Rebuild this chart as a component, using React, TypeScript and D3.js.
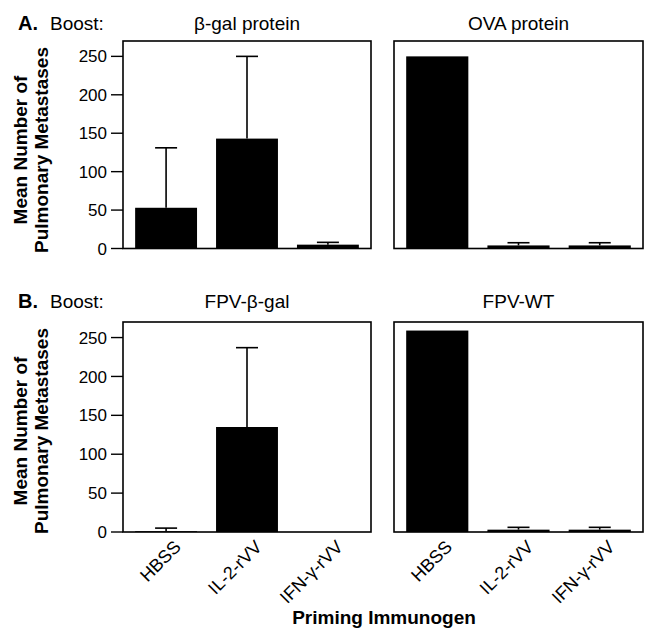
import React from "react";
import * as d3 from "d3";

const categories = ["HBSS", "IL-2-rVV", "IFN-γ-rVV"];
const yTicks = [0, 50, 100, 150, 200, 250];

const betaGalProteinMeans = [53, 143, 5];
const betaGalProteinErr = [78, 107, 3];
const ovaProteinMeans = [250, 4, 4];
const ovaProteinErr = [0, 3.5, 3.5];
const fpvBetaGalMeans = [1, 135, 0];
const fpvBetaGalErr = [4, 102, 0];
const fpvWtMeans = [259, 3, 3];
const fpvWtErr = [0, 3, 3];

const rowLabels = ["A.", "B."];
const panelTitles = [
  ["β-gal protein", "OVA protein"],
  ["FPV-β-gal", "FPV-WT"],
];

const FONT = "'Liberation Sans', Arial, Helvetica, sans-serif";

type PanelProps = {
  x0: number;
  x1: number;
  y0: number;
  y1: number;
  means: number[];
  errs: number[];
  showY: boolean;
  showX: boolean;
};

function Panel({ x0, x1, y0, y1, means, errs, showY, showX }: PanelProps) {
  const x = d3
    .scaleBand<string>()
    .domain(categories)
    .range([x0, x1])
    .paddingInner(0.235)
    .paddingOuter(0.15);
  const y = d3.scaleLinear().domain([0, 270]).range([y1, y0]);
  const bw = x.bandwidth();
  const cap = 22;
  return (
    <g>
      {categories.map((c, i) => {
        const v = means[i];
        const e = errs[i];
        const bx = x(c)!;
        const cx = bx + bw / 2;
        return (
          <g key={c}>
            {e > 0 && (
              <g stroke="#000" strokeWidth={1.6}>
                <line x1={cx} x2={cx} y1={y(v)} y2={y(v + e)} />
                <line x1={cx - cap / 2} x2={cx + cap / 2} y1={y(v + e)} y2={y(v + e)} />
              </g>
            )}
            {v > 0 && (
              <rect x={bx} y={y(v)} width={bw} height={y(0) - y(v)} fill="#000" />
            )}
          </g>
        );
      })}
      <rect x={x0} y={y0} width={x1 - x0} height={y1 - y0} fill="none" stroke="#000" strokeWidth={1.6} />
      {showY &&
        yTicks.map((t) => (
          <g key={t}>
            <line x1={x0 - 12} x2={x0} y1={y(t)} y2={y(t)} stroke="#000" strokeWidth={1.4} />
            <text
              x={x0 - 16}
              y={y(t)}
              dy="0.36em"
              textAnchor="end"
              fontSize={17}
              fontFamily={FONT}
            >
              {t}
            </text>
          </g>
        ))}
      {showX &&
        categories.map((c) => {
          const cx = x(c)! + bw / 2 + 16;
          const ty = y1 + 16;
          return (
            <text
              key={c}
              transform={`translate(${cx},${ty}) rotate(-45)`}
              textAnchor="end"
              fontSize={18}
              fontFamily={FONT}
            >
              {c}
            </text>
          );
        })}
    </g>
  );
}

export default function App() {
  const rows = [
    { y0: 41, y1: 248.5, titleY: 30, labelCY: 150 },
    { y0: 322, y1: 532, titleY: 308, labelCY: 431 },
  ];
  const cols = [
    { x0: 123, x1: 371 },
    { x0: 394, x1: 643 },
  ];
  const data = [
    [
      [betaGalProteinMeans, betaGalProteinErr],
      [ovaProteinMeans, ovaProteinErr],
    ],
    [
      [fpvBetaGalMeans, fpvBetaGalErr],
      [fpvWtMeans, fpvWtErr],
    ],
  ];
  return (
    <svg
      width={654}
      height={635}
      style={{ position: "absolute", left: 0, top: 0, background: "#fff" }}
    >
      <rect width={654} height={635} fill="#fff" />
      {rows.map((r, ri) => (
        <g key={ri}>
          <text x={18} y={r.titleY} fontSize={20} fontWeight="bold" fontFamily={FONT}>
            {rowLabels[ri]}
          </text>
          <text x={50} y={r.titleY} fontSize={19} fontFamily={FONT}>
            Boost:
          </text>
          {cols.map((c, ci) => (
            <text
              key={ci}
              x={(c.x0 + c.x1) / 2}
              y={r.titleY}
              textAnchor="middle"
              fontSize={19}
              fontFamily={FONT}
            >
              {panelTitles[ri][ci]}
            </text>
          ))}
          <text
            transform={`translate(27,${r.labelCY}) rotate(-90)`}
            textAnchor="middle"
            fontSize={19}
            fontWeight="bold"
            fontFamily={FONT}
          >
            Mean Number of
          </text>
          <text
            transform={`translate(48,${r.labelCY}) rotate(-90)`}
            textAnchor="middle"
            fontSize={19}
            fontWeight="bold"
            fontFamily={FONT}
          >
            Pulmonary Metastases
          </text>
          {cols.map((c, ci) => (
            <Panel
              key={ci}
              x0={c.x0}
              x1={c.x1}
              y0={r.y0}
              y1={r.y1}
              means={data[ri][ci][0]}
              errs={data[ri][ci][1]}
              showY={ci === 0}
              showX={ri === 1}
            />
          ))}
        </g>
      ))}
      <text x={384} y={624} textAnchor="middle" fontSize={19} fontWeight="bold" fontFamily={FONT}>
        Priming Immunogen
      </text>
    </svg>
  );
}
